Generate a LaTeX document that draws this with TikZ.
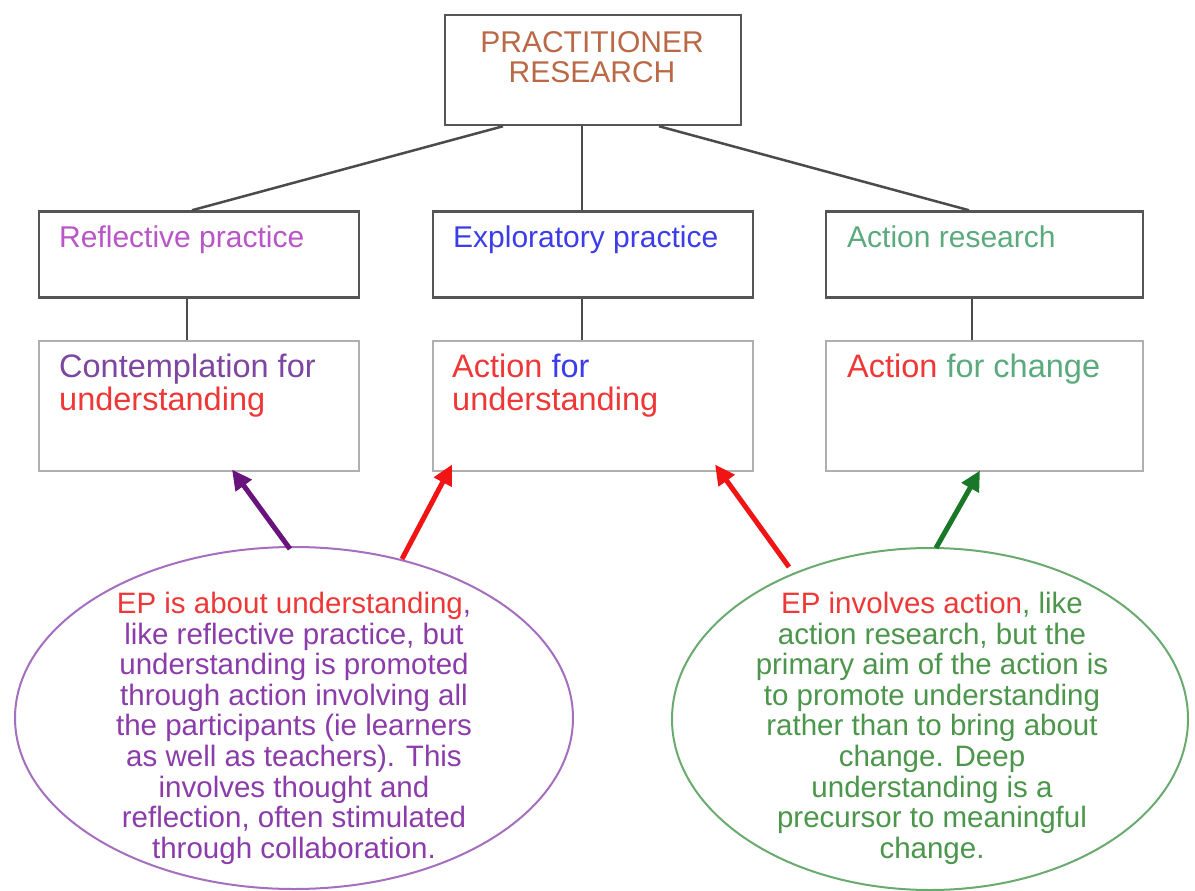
\documentclass[tikz,border=0pt]{standalone}
\usepackage{fontspec}
\setmainfont{Liberation Sans}
\usetikzlibrary{arrows.meta,shapes.geometric}
\definecolor{topc}{RGB}{185,105,70}
\definecolor{rpc}{RGB}{185,85,200}
\definecolor{epc}{RGB}{60,60,235}
\definecolor{arc}{RGB}{90,170,125}
\definecolor{conc}{RGB}{125,70,160}
\definecolor{redc}{RGB}{238,55,55}
\definecolor{lpurple}{RGB}{140,60,170}
\definecolor{lborder}{RGB}{165,110,190}
\definecolor{rgreen}{RGB}{75,150,75}
\definecolor{rborder}{RGB}{105,170,110}
\definecolor{arrpurple}{RGB}{105,20,125}
\definecolor{arrred}{RGB}{240,20,20}
\definecolor{arrgreen}{RGB}{25,120,40}
\definecolor{darkbox}{RGB}{85,85,85}
\definecolor{lightbox}{RGB}{175,175,175}
\definecolor{linec}{RGB}{75,75,75}
\begin{document}
\begin{tikzpicture}[x=1pt,y=-1pt,
  darkframe/.style={draw=darkbox,line width=2.5pt,fill=white,inner sep=0pt},
  lightframe/.style={draw=lightbox,line width=2pt,fill=white,inner sep=0pt},
  lbl/.style={anchor=base west,inner sep=0pt,font=\fontsize{30}{30}\selectfont},
  biglbl/.style={anchor=base west,inner sep=0pt,align=left,font=\fontsize{32.5}{33}\selectfont},
  conn/.style={draw=linec,line width=2.5pt},
  thinconn/.style={draw=linec,line width=1.6pt},
  bigarrow/.style={line width=5pt,-{Triangle[length=20pt,width=19pt]}},
  oval/.style={ellipse,line width=2pt,fill=none,inner sep=0pt},
  ovaltext/.style={anchor=north,inner sep=0pt,align=center,font=\fontsize{29.5}{30.6}\selectfont}
]
\useasboundingbox[fill=white] (0,0) rectangle (1195,891);

% top box
\node[darkframe,minimum width=296pt,minimum height=110pt] (top) at (593,70) {};
\node[anchor=base,inner sep=0pt,align=center,text=topc,font=\fontsize{30}{30}\selectfont] (toptext) at (592,82) {PRACTITIONER\\RESEARCH};

% level 2 boxes
\node[darkframe,minimum width=320pt,minimum height=86pt] (rp) at (199,254.5) {};
\node[darkframe,minimum width=320pt,minimum height=86pt] (ep) at (593,254.5) {};
\node[darkframe,minimum width=317pt,minimum height=86pt] (ar) at (984.5,254.5) {};
\node[lbl,text=rpc] (rpt) at (59,247) {Reflective practice};
\node[lbl,text=epc] (ept) at (453,247) {Exploratory practice};
\node[lbl,text=arc] (art) at (847,247) {Action research};

% level 3 boxes
\node[lightframe,minimum width=320pt,minimum height=130pt] (c1) at (199,405.5) {};
\node[lightframe,minimum width=320pt,minimum height=130pt] (c2) at (593,405.5) {};
\node[lightframe,minimum width=317pt,minimum height=130pt] (c3) at (984.5,405.5) {};
\node[biglbl] (c1t) at (59,410) {\textcolor{conc}{Contemplation for}\\\textcolor{redc}{understanding}};
\node[biglbl] (c2t) at (452,410) {\textcolor{redc}{Action} \textcolor{epc}{for}\\\textcolor{redc}{understanding}};
\node[biglbl] (c3t) at (847,377) {\textcolor{redc}{Action} \textcolor{arc}{for change}};

% connectors
\draw[conn] ([xshift=-90pt]top.south) -- ([xshift=-7pt]rp.north);
\draw[thinconn] ([xshift=-11pt]top.south) -- ([xshift=-11pt]ep.north);
\draw[conn] ([xshift=66pt]top.south) -- ([xshift=-15.5pt]ar.north);
\draw[thinconn] ([xshift=-12pt]rp.south) -- ([xshift=-12pt]c1.north);
\draw[thinconn] ([xshift=-11pt]ep.south) -- ([xshift=-11pt]c2.north);
\draw[thinconn] ([xshift=-12.5pt]ar.south) -- ([xshift=-12.5pt]c3.north);

% ellipses
\node[oval,draw=lborder,minimum width=558pt,minimum height=342pt] (lov) at (294,718) {};
\node[oval,draw=rborder,minimum width=516pt,minimum height=342pt] (rov) at (930,719) {};

\node[ovaltext,text=lpurple] (lovt) at (294,592) {\textcolor{redc}{EP is about understanding},\\like reflective practice, but\\understanding is promoted\\through action involving all\\the participants (ie learners\\as well as teachers). This\\involves thought and\\reflection, often stimulated\\through collaboration.};
\node[ovaltext,text=rgreen] (rovt) at (932,592) {\textcolor{redc}{EP involves action}, like\\action research, but the\\primary aim of the action is\\to promote understanding\\rather than to bring about\\change. Deep\\understanding is a\\precursor to meaningful\\change.};

% arrows
\coordinate (a1) at (290,549);
\coordinate (a2) at (402,559);
\coordinate (a3) at (789,567);
\coordinate (a4) at (936,548);
\draw[bigarrow,draw=arrpurple,fill=arrpurple] (a1) -- ([xshift=33pt,yshift=2pt]c1.south);
\draw[bigarrow,draw=arrred,fill=arrred] (a2) -- ([xshift=-141pt,yshift=7pt]c2.south);
\draw[bigarrow,draw=arrred,fill=arrred] (a3) -- ([xshift=122pt,yshift=7pt]c2.south);
\draw[bigarrow,draw=arrgreen,fill=arrgreen] (a4) -- ([xshift=-4.5pt,yshift=1pt]c3.south);
\end{tikzpicture}
\end{document}
